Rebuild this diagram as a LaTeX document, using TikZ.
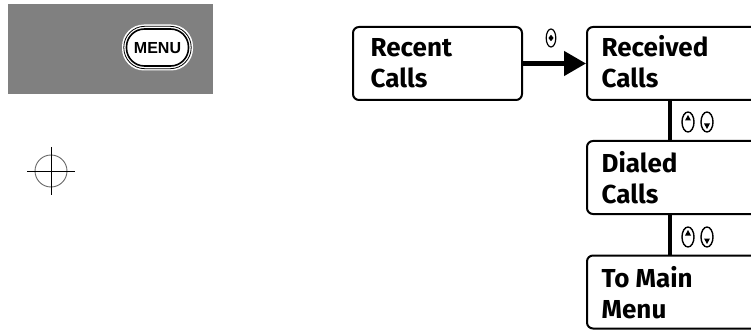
\documentclass[tikz,border=0pt]{standalone}
\usepackage{fontspec}
\setmainfont{Fira Sans}
\newfontfamily\menufont{Liberation Sans}
\usetikzlibrary{arrows.meta}
\definecolor{panelgray}{RGB}{128,128,128}
\definecolor{ringgray}{RGB}{105,105,105}
\tikzset{
  callbox/.style={draw=black, line width=2pt, rounded corners=6pt, fill=white, inner sep=0pt},
  lbl/.style={inner sep=0pt, anchor=base west, font=\bfseries\fontsize{26}{31}\selectfont},
  vconn/.style={draw=black, line width=4pt},
  hconn/.style={draw=black, line width=4.5pt, -{Triangle[length=22pt,width=24pt]}},
  keyicon/.style={draw=black, line width=1.4pt},
}
\begin{document}
\begin{tikzpicture}[x=1pt,y=-1pt]
\useasboundingbox (0,0) rectangle (751,331);
\clip (0,0) rectangle (751,331);

% menu panel
\fill[panelgray] (8,4) rectangle (213,94);
\fill[white, rounded corners=22pt] (122,24.5) rectangle (193,70.5);
\path[fill=white, draw=black, line width=0.8pt, rounded corners=21pt] (123.8,26.3) rectangle (191.2,68.7);
\draw[black, line width=1.6pt, rounded corners=18pt] (126.5,29) rectangle (188.5,66);
\node[inner sep=0pt, font=\menufont\bfseries\fontsize{16}{16}\selectfont, anchor=base] (menu) at (157.5,53.8) {MENU};

% registration mark
\draw[ringgray, line width=0.9pt] (51,171) circle [radius=16];
\draw[black, line width=0.9pt] (27,171) -- (75,171);
\draw[black, line width=0.9pt] (51,147) -- (51,195);

% boxes
\node[callbox, minimum width=169pt, minimum height=73pt] (recent) at (437.5,63.5) {};
\node[callbox, minimum width=243pt, minimum height=73pt] (received) at (708.5,63.5) {};
\node[callbox, minimum width=243pt, minimum height=73pt] (dialed) at (708.5,177.5) {};
\node[callbox, minimum width=243pt, minimum height=73pt] (tomain) at (708.5,292) {};

% texts
\node[lbl] (trecent) at (370.5,57) {\parbox[t]{160pt}{Recent\\Calls}};
\node[lbl] (treceived) at (601.5,57) {\parbox[t]{160pt}{Received\\Calls}};
\node[lbl] (tdialed) at (601.5,172) {\parbox[t]{160pt}{Dialed\\Calls}};
\node[lbl] (ttomain) at (601.5,287) {\parbox[t]{160pt}{To Main\\Menu}};

% connectors
\coordinate (vx) at (670,0);
\draw[vconn] (received.south -| vx) -- (dialed.north -| vx);
\draw[vconn] (dialed.south -| vx) -- (tomain.north -| vx);
\draw[hconn] (recent.east) -- (received.west);

% select key icon
\draw[keyicon, line width=1.2pt] (551,38) ellipse [x radius=4.8, y radius=9];
\fill (551,34.8) -- (553.6,38) -- (551,41.2) -- (548.4,38) -- cycle;

% up/down key icons
\foreach \yy in {122,237} {
  \draw[keyicon] (688,\yy) ellipse [x radius=6, y radius=10];
  \draw[keyicon] (707,\yy) ellipse [x radius=6, y radius=10];
  \fill (688,\yy-7) -- (691,\yy-1.5) -- (685,\yy-1.5) -- cycle;
  \fill (707,\yy+7) -- (710,\yy+1.5) -- (704,\yy+1.5) -- cycle;
}
\end{tikzpicture}
\end{document}
